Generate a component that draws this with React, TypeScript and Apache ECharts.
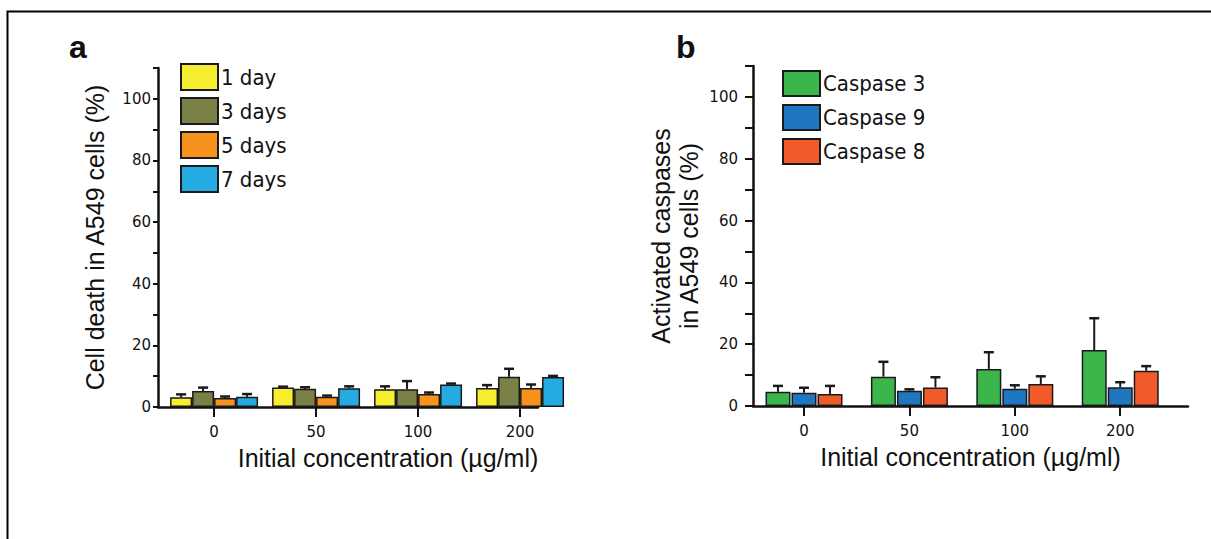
import React, { useEffect, useRef } from "react";
import * as echarts from "echarts";

// ---------- data ----------
const concentrations = ["0", "50", "100", "200"];
const yTickLabels = ["0", "20", "40", "60", "80", "100"];

// Panel a: cell death (%) by incubation time
const dayNames = ["1 day", "3 days", "5 days", "7 days"];
const day1 = [3.2, 6.3, 5.8, 6.2];
const day1Err = [0.9, 0.3, 0.9, 0.9];
const day3 = [5.2, 5.9, 5.8, 9.8];
const day3Err = [1.1, 0.5, 2.6, 2.6];
const day5 = [2.9, 3.3, 4.2, 6.2];
const day5Err = [0.5, 0.4, 0.5, 1.1];
const day7 = [3.3, 6.1, 7.3, 9.7];
const day7Err = [0.9, 0.6, 0.3, 0.4];

// Panel b: activated caspases (%)
const caspaseNames = ["Caspase 3", "Caspase 9", "Caspase 8"];
const caspase3 = [4.6, 9.5, 12.0, 18.1];
const caspase3Err = [1.9, 4.8, 5.4, 10.3];
const caspase9 = [4.3, 4.9, 5.6, 6.1];
const caspase9Err = [1.6, 0.5, 1.1, 1.6];
const caspase8 = [3.9, 6.0, 7.1, 11.4];
const caspase8Err = [2.6, 3.3, 2.5, 1.5];

const dayColors = ["#f7ee2f", "#7b8046", "#f7921e", "#25aae2"];
const caspaseColors = ["#3cb54a", "#2077c1", "#f15a29"];

// ---------- style ----------
const INK = "#111";
const NARROW = "'Liberation Sans Narrow', 'DejaVu Sans Condensed', 'Liberation Sans', sans-serif";
const SANS = "'Liberation Sans', Arial, sans-serif";
const TICKFONT = "'DejaVu Sans', sans-serif";

const A_BAR = 22;
const A_GAP = 0;
const B_BAR = 25;
const B_GAP = 0.04;

function barSeries(name: string, values: number[], color: string, axis: number, width: number, gap: number) {
  return {
    type: "bar",
    name,
    xAxisIndex: axis,
    yAxisIndex: axis,
    data: values.map((v, i) => [i, v]),
    barWidth: width,
    barGap: `${gap * 100}%`,
    itemStyle: { color, borderColor: "#1a1a1a", borderWidth: 1.5 },
    z: 2,
  };
}

function errorSeries(name: string, values: number[], errs: number[], axis: number, offset: number) {
  return {
    type: "custom",
    name,
    xAxisIndex: axis,
    yAxisIndex: axis,
    silent: true,
    z: 4,
    data: values.map((v, i) => [i, v, errs[i]]),
    encode: { x: 0, y: 1 },
    renderItem: (_p: any, api: any) => {
      const x = api.value(0);
      const y = api.value(1);
      const e = api.value(2);
      const base = api.coord([x, y]);
      const top = api.coord([x, y + e]);
      const cx = base[0] + offset;
      return {
        type: "group",
        children: [
          { type: "line", shape: { x1: cx, y1: base[1], x2: cx, y2: top[1] }, style: { stroke: "#1a1a1a", lineWidth: 2 } },
          { type: "line", shape: { x1: cx - 5, y1: top[1], x2: cx + 5, y2: top[1] }, style: { stroke: "#1a1a1a", lineWidth: 2.5 } },
        ],
      };
    },
  };
}

function xAxis(grid: number, min: number, max: number, nameShift: number) {
  return {
    type: "value",
    gridIndex: grid,
    min,
    max,
    splitLine: { show: false },
    axisLine: { show: true, onZero: false, lineStyle: { color: INK, width: 2.5 } },
    axisTick: { show: true, customValues: [0, 1, 2, 3], length: 10, lineStyle: { color: INK, width: 2 } },
    axisLabel: {
      customValues: [0, 1, 2, 3],
      formatter: (v: number) => concentrations[Math.round(v)] ?? "",
      fontFamily: TICKFONT,
      fontSize: 15,
      color: INK,
      margin: 17,
    },
    name: "Initial concentration (µg/ml)",
    nameLocation: "middle",
    nameGap: 38,
    nameTextStyle: { fontFamily: SANS, fontSize: 25, color: INK, padding: [0, 0, 0, nameShift] },
  };
}

function yAxis(grid: number, tickLen: number, labelMargin: number, labelLift: number, name: string, nameGap: number, lineHeight: number) {
  return {
    type: "value",
    gridIndex: grid,
    min: 0,
    max: 110,
    interval: 10,
    splitLine: { show: false },
    axisLine: { show: true, onZero: false, lineStyle: { color: INK, width: 2.5 } },
    axisTick: { show: true, length: tickLen, lineStyle: { color: INK, width: 2 } },
    axisLabel: {
      formatter: (v: number) => (yTickLabels.includes(String(v)) ? String(v) : ""),
      fontFamily: TICKFONT,
      fontSize: 15,
      color: INK,
      margin: labelMargin,
      verticalAlign: "middle",
      padding: [0, 0, labelLift, 0],
    },
    name,
    nameLocation: "middle",
    nameRotate: 90,
    nameGap,
    nameTextStyle: { fontFamily: SANS, fontSize: 25, color: INK, lineHeight },
  };
}

export default function App() {
  const ref = useRef<HTMLDivElement>(null);
  useEffect(() => {
    if (!ref.current) return;
    const chart = echarts.init(ref.current, undefined, { renderer: "svg" });
    const aStep = A_BAR * (1 + A_GAP);
    const bStep = B_BAR * (1 + B_GAP);
    const daySets = [
      [day1, day1Err],
      [day3, day3Err],
      [day5, day5Err],
      [day7, day7Err],
    ];
    const casSets = [
      [caspase3, caspase3Err],
      [caspase9, caspase9Err],
      [caspase8, caspase8Err],
    ];
    const series: any[] = [];
    daySets.forEach(([v], k) => series.push(barSeries(dayNames[k], v, dayColors[k], 0, A_BAR, A_GAP)));
    casSets.forEach(([v], k) => series.push(barSeries(caspaseNames[k], v, caspaseColors[k], 1, B_BAR, B_GAP)));
    daySets.forEach(([v, e], k) => series.push(errorSeries(dayNames[k] + " error", v, e, 0, (k - 1.5) * aStep)));
    casSets.forEach(([v, e], k) => series.push(errorSeries(caspaseNames[k] + " error", v, e, 1, (k - 1) * bStep)));

    chart.setOption({
      animation: false,
      backgroundColor: "#fff",
      title: [
        { text: "a", left: 64, top: 26, textStyle: { fontFamily: SANS, fontSize: 32, fontWeight: "bold", color: INK } },
        { text: "b", left: 671, top: 26, textStyle: { fontFamily: SANS, fontSize: 32, fontWeight: "bold", color: INK } },
      ],
      graphic: [
        { type: "rect", shape: { x: 7.5, y: 11.5, width: 1400, height: 800 }, style: { fill: "none", stroke: "#000", lineWidth: 2 }, silent: true },
      ],
      legend: [
        {
          data: dayNames,
          orient: "vertical",
          left: 175,
          top: 58,
          itemWidth: 37,
          itemHeight: 26,
          itemGap: 6,
          icon: "rect",
          itemStyle: { borderColor: "#1a1a1a", borderWidth: 2 },
          textStyle: { fontFamily: NARROW, fontSize: 22, color: INK, padding: [0, 0, 0, -2] },
        },
        {
          data: caspaseNames,
          orient: "vertical",
          left: 777,
          top: 65,
          itemWidth: 37,
          itemHeight: 25,
          itemGap: 7,
          icon: "rect",
          itemStyle: { borderColor: "#1a1a1a", borderWidth: 2 },
          textStyle: { fontFamily: NARROW, fontSize: 22, color: INK, padding: [0, 0, 0, -2] },
        },
      ],
      grid: [
        { left: 158, top: 68, width: 380, height: 339 },
        { left: 753, top: 66, width: 435, height: 340 },
      ],
      xAxis: [xAxis(0, -0.55, 3.176, 80), xAxis(1, -0.484, 3.643, 0)],
      yAxis: [
        yAxis(0, 5, 7, 18, "Cell death in A549 cells (%)", 48, 30),
        yAxis(1, 8, 15, 10, "Activated caspases\nin A549 cells (%)", 50, 28),
      ],
      series,
    });
    return () => chart.dispose();
  }, []);
  return <div ref={ref} style={{ position: "fixed", left: 0, top: 0, width: 1211, height: 539 }} />;
}
